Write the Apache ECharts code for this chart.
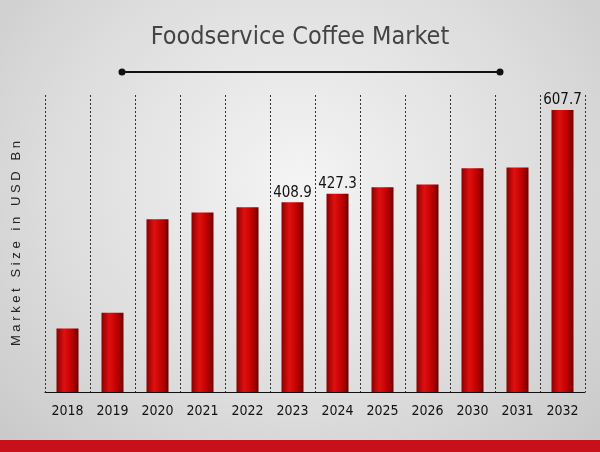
<!DOCTYPE html>
<html><head><meta charset="utf-8">
<script src="https://cdn.jsdelivr.net/npm/echarts@6/dist/echarts.min.js"></script>
<style>html,body{margin:0;padding:0}#c{width:600px;height:452px;background:radial-gradient(ellipse at 50% 40%,#f4f4f4 0%,#dcdcdc 60%,#c8c8c8 100%)}</style>
</head><body><div id="c"></div>
<script>
const years = ['2018','2019','2020','2021','2022','2023','2024','2025','2026','2030','2031','2032'];
const values = [137, 171, 372, 387, 398, 408.9, 427.3, 441, 447, 482, 484, 607.7];
const labeledYears = ['2023','2024','2032'];

const chart = echarts.init(document.getElementById('c'));
chart.setOption({
  animation:false,
  title:{text:'Foodservice Coffee Market',left:'center',top:20,textStyle:{fontFamily:'DejaVu Sans Condensed',fontSize:25,fontWeight:'normal',color:'#444'}},
  graphic:[
    {type:'line',shape:{x1:122,y1:72,x2:500,y2:72},style:{stroke:'#111',lineWidth:2}},
    {type:'circle',shape:{cx:122,cy:72,r:3.5},style:{fill:'#111'}},
    {type:'circle',shape:{cx:500,cy:72,r:3.5},style:{fill:'#111'}},
    {type:'rect',shape:{x:0,y:440,width:600,height:12},style:{fill:'#c8101a'}}
  ],
  grid:{left:45,right:15,top:95,bottom:60},
  xAxis:{type:'category',data:years,
    axisLine:{lineStyle:{color:'#111',width:1}},axisTick:{show:false},
    axisLabel:{color:'#111',fontSize:14,fontFamily:'DejaVu Sans Condensed',margin:12},
    splitLine:{show:true,lineStyle:{color:'#333',type:[2,2],width:1}}},
  yAxis:{type:'value',min:0,max:640,show:true,axisLine:{show:false},axisTick:{show:false},axisLabel:{show:false},splitLine:{show:false},
    name:'M a r k e t   S i z e   i n   U S D   B n',nameLocation:'middle',nameGap:22,nameRotate:90,
    nameTextStyle:{fontSize:13,color:'#222',fontFamily:'Liberation Sans'}},
  series:[{type:'bar',data:values,barWidth:22,
    itemStyle:{color:new echarts.graphic.LinearGradient(0,0,1,0,[{offset:0,color:'#8a0000'},{offset:0.35,color:'#e01010'},{offset:0.7,color:'#c00000'},{offset:1,color:'#700000'}])},
    label:{show:true,position:'top',distance:2,fontSize:15,color:'#111',fontFamily:'DejaVu Sans Condensed',
      formatter:p=>labeledYears.includes(p.name)?String(p.value):''}}]
});
</script></body></html>
